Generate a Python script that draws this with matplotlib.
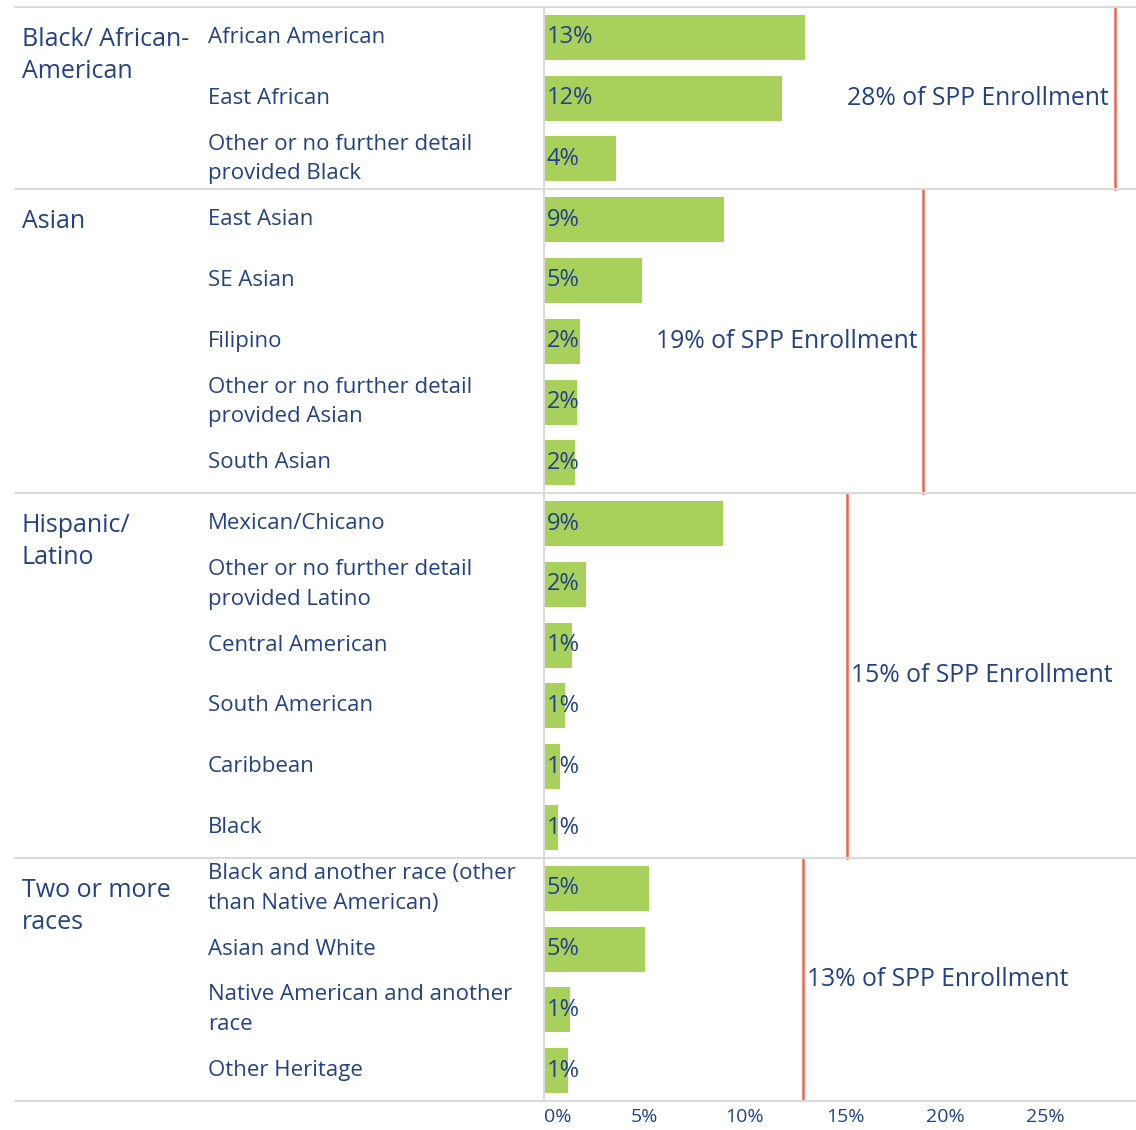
import matplotlib.pyplot as plt
from matplotlib.transforms import blended_transform_factory

groups = ['Black/ African-\nAmerican', 'Asian', 'Hispanic/\nLatino', 'Two or more\nraces']
group_totals = [28.45, 18.9, 15.1, 12.9]
subgroups = [
    ['African American', 'East African', 'Other or no further detail\nprovided Black'],
    ['East Asian', 'SE Asian', 'Filipino', 'Other or no further detail\nprovided Asian', 'South Asian'],
    ['Mexican/Chicano', 'Other or no further detail\nprovided Latino', 'Central American',
     'South American', 'Caribbean', 'Black'],
    ['Black and another race (other\nthan Native American)', 'Asian and White',
     'Native American and another\nrace', 'Other Heritage'],
]
shares = [
    [13.0, 11.85, 3.6],
    [8.95, 4.9, 1.8, 1.65, 1.55],
    [8.9, 2.1, 1.4, 1.05, 0.8, 0.7],
    [5.25, 5.05, 1.3, 1.2],
]
ticks = [0, 5, 10, 15, 20, 25]

blue = '#23418a'
green = '#a7d15b'
red = '#ec6450'
grey = '#dadada'

plt.rcParams['font.family'] = ['Open Sans', 'DejaVu Sans']

W, H = 1136, 1130
fig = plt.figure(figsize=(W / 100, H / 100), dpi=100)
ax = fig.add_axes([544 / W, 1 - 1101 / H, 1 - 544 / W, (1101 - 7) / H])

n_rows = sum(len(s) for s in subgroups)
ax.set_ylim(n_rows - 0.5, -0.5)
ax.set_xlim(0, 29.5)

lab = blended_transform_factory(fig.transFigure, ax.transData)
row = 0
for g, name in enumerate(groups):
    start = row
    for sub, v in zip(subgroups[g], shares[g]):
        ax.barh(row, v, height=0.74, color=green)
        ax.text(0.12, row, f'{round(v)}%', ha='left', va='center', fontsize=17, color=blue)
        ax.text(208 / W, row, sub, transform=lab, ha='left', va='center',
                fontsize=16, color=blue, linespacing=1.55)
        row += 1
    ax.text(22 / W, start - 0.17, name, transform=lab, ha='left', va='top',
            fontsize=18, color=blue, linespacing=1.38)
    total = group_totals[g]
    ax.plot([total, total], [start - 0.5, row - 0.5], color=red, lw=1.8)
    mid = (start + row - 1) / 2
    label = f'{round(total)}% of SPP Enrollment'
    if total > 17:
        ax.text(total - 0.3, mid, label, ha='right', va='center', fontsize=17.8, color=blue)
    else:
        ax.text(total + 0.2, mid, label, ha='left', va='center', fontsize=17.8, color=blue)
    # separator line across the whole table
    ax.plot([-529 / 20.07, 29.5], [start - 0.5, start - 0.5], color=grey, lw=1.5,
            clip_on=False)
ax.plot([-529 / 20.07, 29.5], [row - 0.5, row - 0.5], color=grey, lw=1.5, clip_on=False)

for s in ['top', 'right', 'bottom']:
    ax.spines[s].set_visible(False)
ax.spines['left'].set_color(grey)
ax.spines['left'].set_linewidth(1.5)
ax.set_yticks([])
ax.set_xticks(ticks)
ax.set_xticklabels([f'{t}%' for t in ticks])
ax.tick_params(axis='x', length=0, pad=5, labelsize=14, labelcolor=blue)
ax.get_xticklabels()[0].set_ha('left')

fig.savefig('out.png', dpi=100)
